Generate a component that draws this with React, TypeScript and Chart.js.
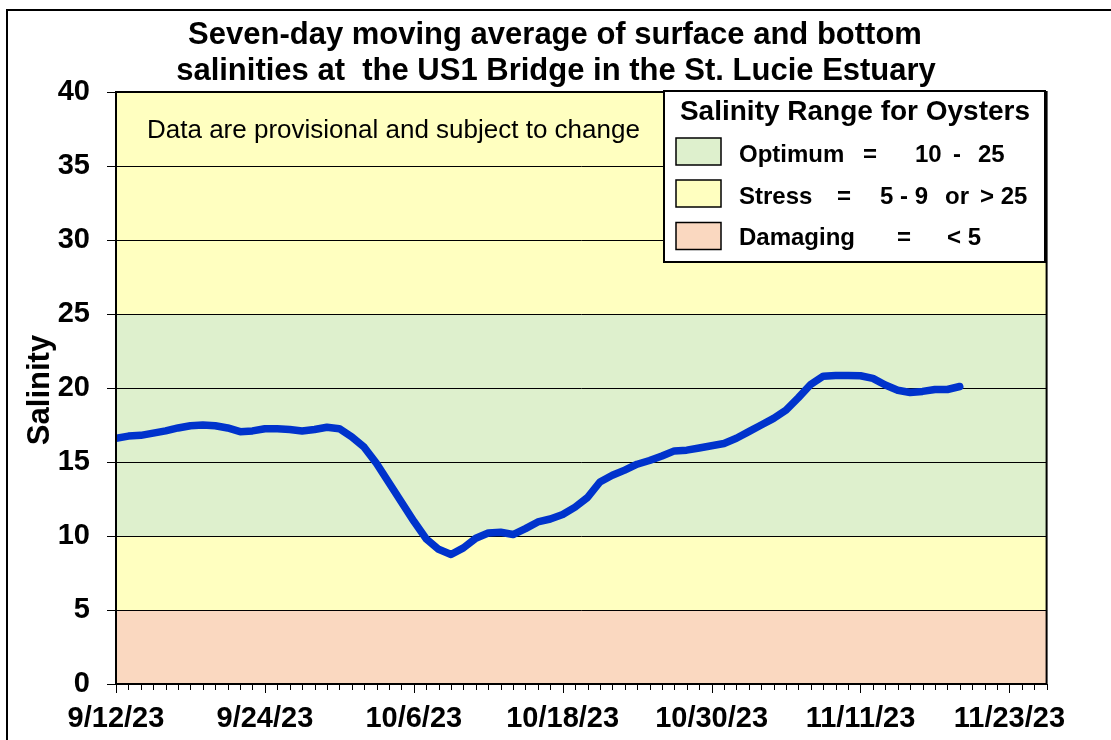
import React, { useEffect, useRef } from 'react';
import { Chart, registerables } from 'chart.js';

Chart.register(...registerables);

// ---- data ----
const startDate = '9/12/23'; // day 0
const xTickDays = [0, 12, 24, 36, 48, 60, 72];
const xTickLabels = ['9/12/23', '9/24/23', '10/6/23', '10/18/23', '10/30/23', '11/11/23', '11/23/23'];
const xMaxDay = 75;
const yTickValues = [0, 5, 10, 15, 20, 25, 30, 35, 40];
// seven-day moving average salinity, one value per day from 9/12/23
const salinity = [
  16.6, 16.75, 16.8, 16.95, 17.1, 17.3, 17.45, 17.5, 17.45, 17.3,
  17.05, 17.1, 17.25, 17.25, 17.2, 17.1, 17.2, 17.35, 17.25, 16.7,
  16.0, 14.9, 13.6, 12.3, 11.0, 9.8, 9.1, 8.75, 9.2, 9.85,
  10.2, 10.25, 10.1, 10.5, 10.95, 11.15, 11.45, 11.95, 12.6, 13.65,
  14.1, 14.45, 14.85, 15.1, 15.4, 15.75, 15.8, 15.95, 16.1, 16.25,
  16.6, 17.05, 17.5, 17.95, 18.5, 19.35, 20.25, 20.8, 20.85, 20.85,
  20.83, 20.65, 20.2, 19.85, 19.7, 19.77, 19.9, 19.9, 20.1,
];
// salinity ranges for oysters
const bandFrom = [0, 5, 10, 25];
const bandTo = [5, 10, 25, 40];

const titleLines = [
  'Seven-day moving average of surface and bottom',
  'salinities at  the US1 Bridge in the St. Lucie Estuary',
];
const noteText = 'Data are provisional and subject to change';
const legendTitle = 'Salinity Range for Oysters';

// ---- styles ----
const FONT = "'Liberation Sans', Arial, Helvetica, sans-serif";
const GREEN = '#DEF0CD';
const YELLOW = '#FFFFC0';
const PEACH = '#FAD8C0';
const bandColors = [PEACH, YELLOW, GREEN, YELLOW];
const LINE = '#0033CC';

const W = 1111;
const H = 740;

const decorPlugin = {
  id: 'decor',
  beforeDraw(chart: any) {
    const { ctx, chartArea, scales } = chart;
    const y = scales.y;
    ctx.save();
    ctx.fillStyle = '#ffffff';
    ctx.fillRect(0, 0, W, H);
    for (let i = 0; i < bandFrom.length; i++) {
      const top = y.getPixelForValue(bandTo[i]);
      const bot = y.getPixelForValue(bandFrom[i]);
      ctx.fillStyle = bandColors[i];
      ctx.fillRect(chartArea.left, top, chartArea.right - chartArea.left, bot - top);
    }
    ctx.restore();
  },
  afterDraw(chart: any) {
    const { ctx, chartArea, scales } = chart;
    const x = scales.x;
    ctx.save();
    // plot border
    ctx.strokeStyle = '#000';
    ctx.lineWidth = 2;
    ctx.strokeRect(chartArea.left, chartArea.top, chartArea.right - chartArea.left, chartArea.bottom - chartArea.top);

    // x ticks (daily minor, major every 12 days)
    ctx.lineWidth = 1;
    ctx.beginPath();
    for (let d = 0; d <= xMaxDay; d++) {
      const px = Math.round(x.getPixelForValue(d)) + 0.5;
      const len = d % 12 === 0 ? 9 : 6;
      ctx.moveTo(px, chartArea.bottom);
      ctx.lineTo(px, chartArea.bottom + len);
    }
    ctx.stroke();

    // outer border
    ctx.lineWidth = 2;
    ctx.strokeRect(7, 10, W + 10, H + 10);

    // title
    ctx.fillStyle = '#000';
    ctx.textAlign = 'center';
    ctx.textBaseline = 'alphabetic';
    ctx.font = `bold 31px ${FONT}`;
    ctx.fillText(titleLines[0], 555, 44);
    ctx.fillText(titleLines[1], 556, 80);

    // note
    ctx.textAlign = 'left';
    ctx.font = `26px ${FONT}`;
    ctx.fillText(noteText, 147, 138);

    // y-axis title
    ctx.save();
    ctx.translate(49, 390);
    ctx.rotate(-Math.PI / 2);
    ctx.textAlign = 'center';
    ctx.font = `bold 31px ${FONT}`;
    ctx.fillText('Salinity', 0, 0);
    ctx.restore();

    // legend box
    ctx.fillStyle = '#fff';
    ctx.fillRect(664, 91, 381, 171);
    ctx.lineWidth = 2;
    ctx.strokeStyle = '#000';
    ctx.strokeRect(664, 91, 381, 171);
    ctx.fillStyle = '#000';
    ctx.textAlign = 'center';
    ctx.font = `bold 28px ${FONT}`;
    ctx.fillText(legendTitle, 855, 120);

    const swY = [138, 180, 222.5];
    const swC = [GREEN, YELLOW, PEACH];
    ctx.lineWidth = 1.5;
    for (let i = 0; i < 3; i++) {
      ctx.fillStyle = swC[i];
      ctx.fillRect(676, swY[i], 45, 27);
      ctx.strokeRect(676, swY[i], 45, 27);
    }
    ctx.fillStyle = '#000';
    ctx.textAlign = 'left';
    ctx.font = `bold 24px ${FONT}`;
    const rows: [string, number][][] = [
      [['Optimum', 739], ['=', 863], ['10', 915], ['-', 953], ['25', 978]],
      [['Stress', 739], ['=', 837], ['5 - 9', 880], ['or', 945], ['> 25', 980]],
      [['Damaging', 739], ['=', 897], ['< 5', 947]],
    ];
    const baselines = [162, 203.5, 245];
    rows.forEach((r, i) => r.forEach(([t, px]) => ctx.fillText(t, px, baselines[i])));
    ctx.restore();
  },
};

export default function App() {
  const ref = useRef<HTMLCanvasElement | null>(null);
  useEffect(() => {
    if (!ref.current) return;
    const points = salinity.map((v, i) => ({ x: i, y: v }));
    const chart = new Chart(ref.current, {
      type: 'line',
      data: {
        datasets: [
          {
            label: 'Salinity',
            data: points,
            borderColor: LINE,
            borderWidth: 7.5,
            borderJoinStyle: 'round',
            borderCapStyle: 'round',
            pointRadius: 0,
            tension: 0,
            fill: false,
          },
        ],
      },
      options: {
        animation: false,
        responsive: false,
        devicePixelRatio: 1,
        layout: { padding: { top: 92, right: 64.4, left: 0, bottom: 0 } },
        plugins: { legend: { display: false }, tooltip: { enabled: false }, title: { display: false } },
        scales: {
          x: {
            type: 'linear',
            min: 0,
            max: xMaxDay,
            afterBuildTicks: (s: any) => {
              s.ticks = xTickDays.map((v) => ({ value: v }));
            },
            afterFit: (s: any) => {
              s.height = 56;
            },
            grid: { display: false, drawTicks: false },
            border: { display: false },
            ticks: {
              autoSkip: false,
              maxRotation: 0,
              padding: 18,
              color: '#000',
              font: { family: FONT, size: 29, weight: 'bold' },
              callback: (v: any) => {
                const i = xTickDays.indexOf(Number(v));
                return i >= 0 ? xTickLabels[i] : '';
              },
            },
          },
          y: {
            min: 0,
            max: 40,
            afterBuildTicks: (s: any) => {
              s.ticks = yTickValues.map((v) => ({ value: v }));
            },
            afterFit: (s: any) => {
              s.width = 116;
            },
            grid: { color: '#000', lineWidth: 1, tickLength: 9, drawTicks: true },
            border: { display: false },
            ticks: {
              padding: 17,
              color: '#000',
              font: { family: FONT, size: 29, weight: 'bold' },
            },
          },
        },
      },
      plugins: [decorPlugin],
    });
    return () => chart.destroy();
  }, []);
  return (
    <div style={{ position: 'fixed', left: 0, top: 0, width: W, height: H }}>
      <canvas ref={ref} width={W} height={H} style={{ width: W, height: H, display: 'block' }} />
    </div>
  );
}
